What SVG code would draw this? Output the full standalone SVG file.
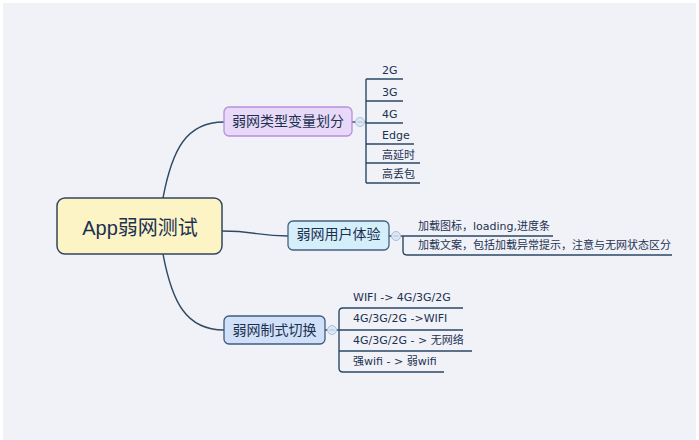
<svg xmlns="http://www.w3.org/2000/svg" width="699" height="440" viewBox="0 0 699 440">
<defs>
<style>
.bg{fill:#f1f2f8}
.conn{fill:none;stroke:#2f4a63;stroke-width:1.4}
.ul{fill:none;stroke:#2b4866;stroke-width:1.4}
.col{fill:#dde7f4;stroke:#a9bfdc;stroke-width:1}
.mn{stroke:#a9bfdc;stroke-width:1}
text{font-family:"Liberation Sans","Noto Sans CJK SC",sans-serif;fill:#1c3150}
.leaf{font-size:11px;font-family:"DejaVu Sans","Noto Sans CJK SC",sans-serif}
.main{font-size:14px;text-anchor:middle}
</style>
</defs>
<rect width="699" height="440" fill="#ffffff"/>
<rect class="bg" x="3" y="3" width="693" height="437"/>
<g id="connectors">
<path class="conn" d="M163,198 C172,150 186,122 224,122"/>
<path class="conn" d="M163,254 C172,302 186,330 224,330"/>
<path class="conn" d="M222,231 C255,231 258,236 288,236"/>
<path class="conn" d="M352,122 L356,122"/>
<path class="conn" d="M364,122 L366,122"/>
<path class="conn" d="M389,236 L392,236"/>
<path class="conn" d="M400,236 L403,236"/>
<path class="conn" d="M325,330 L328,330"/>
<path class="conn" d="M336,330 L339,330"/>
</g>
<g id="root">
<rect x="57" y="198" width="165" height="56" rx="8" fill="#fdf4c6" stroke="#33475b" stroke-width="1.5"/>
<text x="140" y="235" font-size="20" text-anchor="middle">App弱网测试</text>
</g>
<g id="n1">
<rect x="224" y="107" width="128" height="29" rx="5" fill="#e7d9f7" stroke="#b98fdc" stroke-width="1.3"/>
<text class="main" x="288" y="126">弱网类型变量划分</text>
<circle class="col" cx="360" cy="122" r="4.5"/>
<line class="mn" x1="357.5" y1="122" x2="362.5" y2="122"/>
</g>
<g id="n1-leaves">
<path class="ul" d="M366,79 L366,183 M366,79 H403 M366,101 H403 M366,123 H403 M366,144 H414 M366,163 H420 M366,183 H420"/>
<text class="leaf" x="382" y="74">2G</text>
<text class="leaf" x="382" y="96">3G</text>
<text class="leaf" x="382" y="118">4G</text>
<text class="leaf" x="382" y="139">Edge</text>
<text class="leaf" x="382" y="159">高延时</text>
<text class="leaf" x="382" y="178">高丢包</text>
</g>
<g id="n2">
<rect x="288" y="221" width="101" height="29" rx="5" fill="#d4eefa" stroke="#44617f" stroke-width="1.3"/>
<text class="main" x="338.5" y="238.5">弱网用户体验</text>
<circle class="col" cx="396" cy="236" r="4.5"/>
<line class="mn" x1="393.5" y1="236" x2="398.5" y2="236"/>
</g>
<g id="n2-leaves">
<path class="ul" d="M403,236 H553 M403,236 V251 Q403,255 407,255 H672"/>
<text class="leaf" x="418" y="230">加载图标，loading,进度条</text>
<text class="leaf" x="418" y="249">加载文案，包括加载异常提示，注意与无网状态区分</text>
</g>
<g id="n3">
<rect x="224" y="316" width="101" height="28" rx="5" fill="#d0e0f8" stroke="#3f5b80" stroke-width="1.3"/>
<text class="main" x="274.5" y="334.5">弱网制式切换</text>
<circle class="col" cx="332" cy="330" r="4.5"/>
<line class="mn" x1="329.5" y1="330" x2="334.5" y2="330"/>
</g>
<g id="n3-leaves">
<path class="ul" d="M463,308 H343 Q339,308 339,312 V368 Q339,372 343,372 H444 M339,330 H463 M339,351 H472"/>
<text class="leaf" x="353" y="301">WIFI -&gt; 4G/3G/2G</text>
<text class="leaf" x="353" y="322">4G/3G/2G -&gt;WIFI</text>
<text class="leaf" x="353" y="344">4G/3G/2G - &gt; 无网络</text>
<text class="leaf" x="353" y="365">强wifi - &gt; 弱wifi</text>
</g>
</svg>
